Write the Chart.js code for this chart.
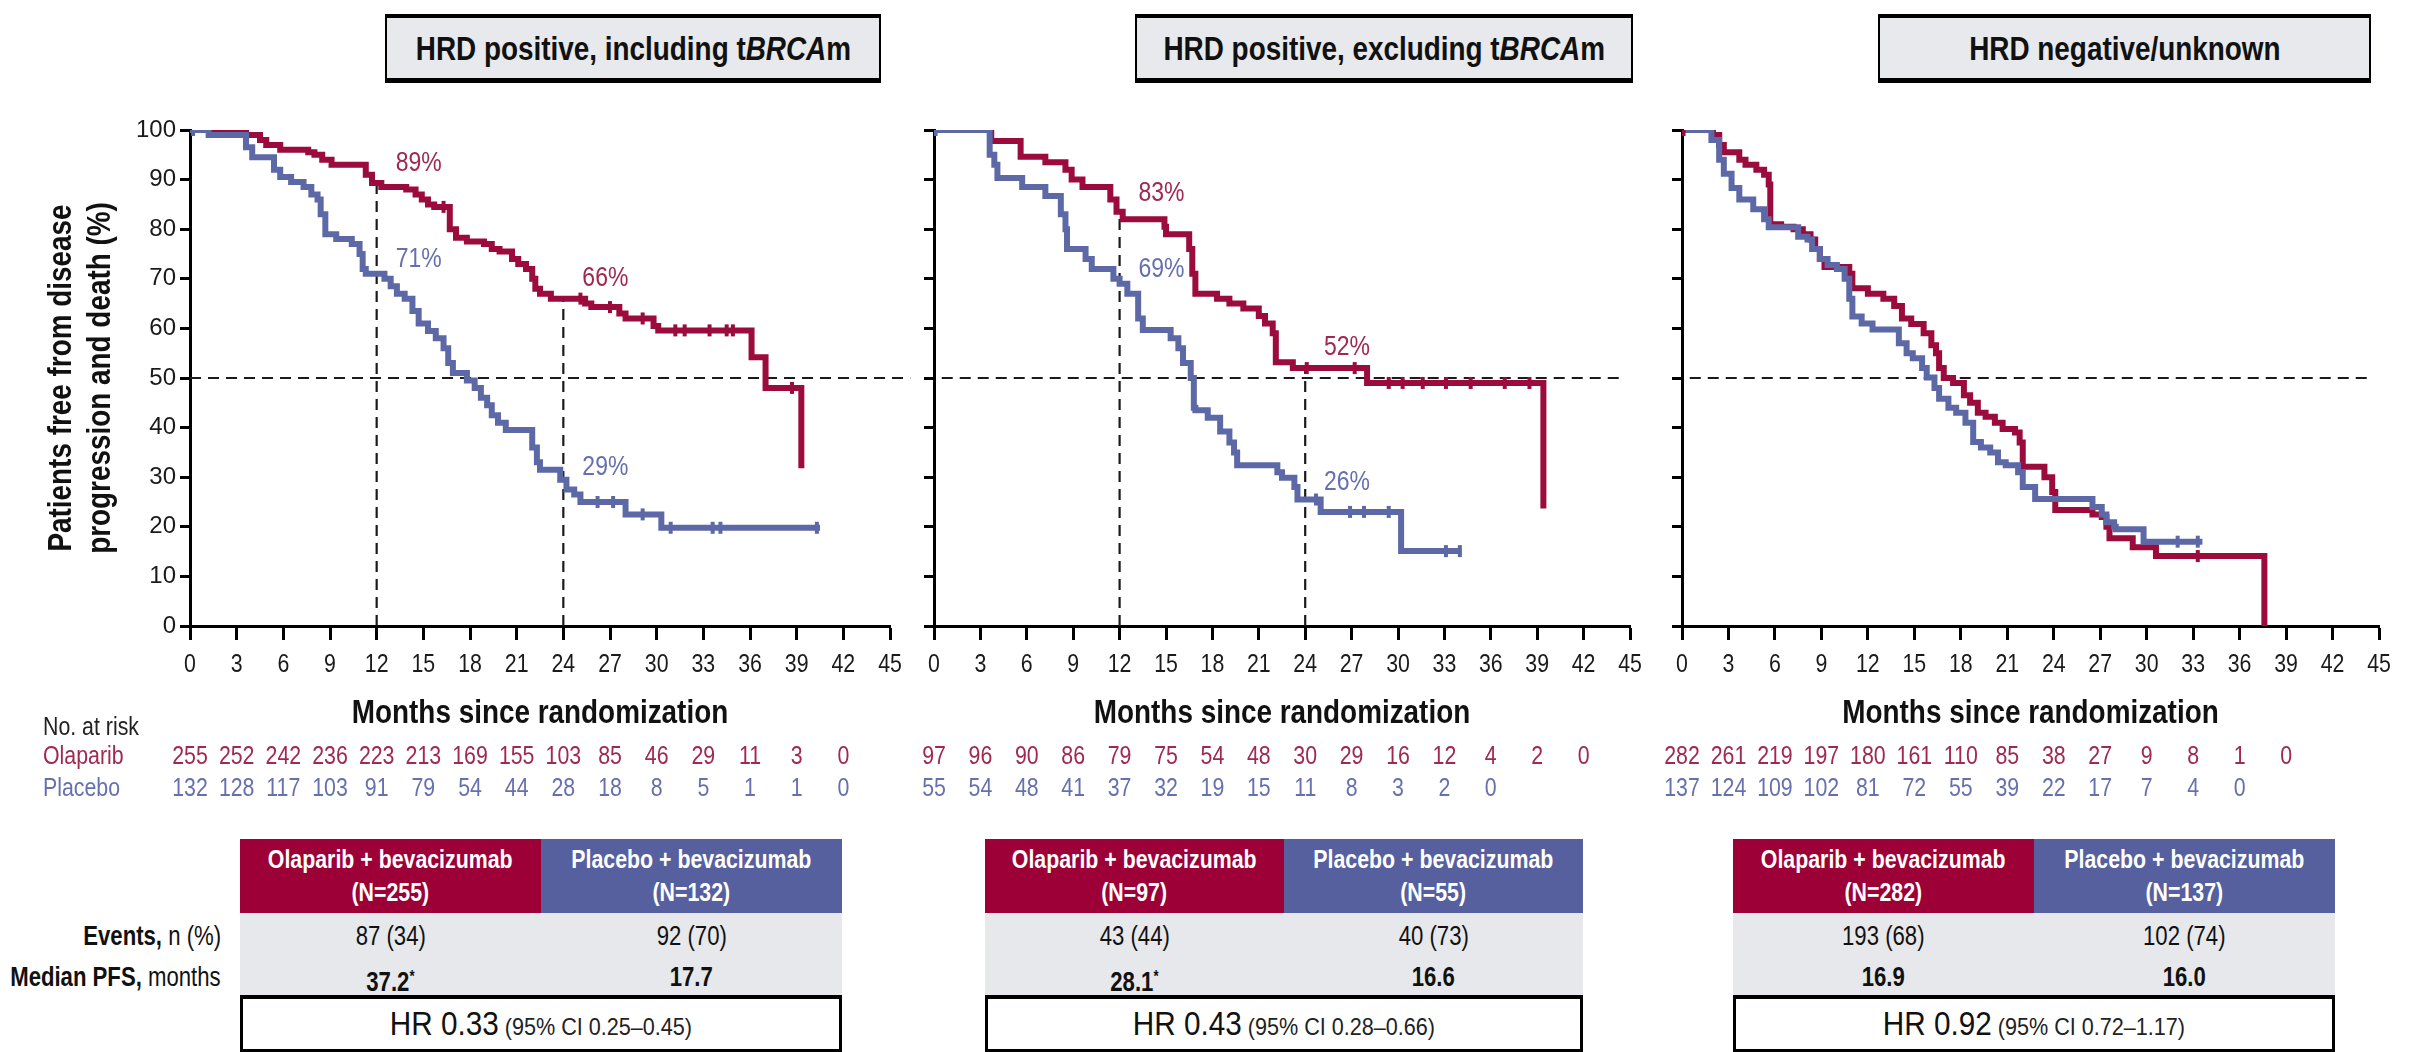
<!DOCTYPE html>
<html>
<head>
<meta charset="utf-8">
<script src="https://cdn.jsdelivr.net/npm/chart.js@4.4.1/dist/chart.umd.min.js"></script>
<style>
  html, body { margin: 0; padding: 0; background: #fff; }
  body {
    width: 2414px; height: 1052px; position: relative; overflow: hidden;
    font-family: "Liberation Sans", Arial, sans-serif;
    color: #111;
  }
  canvas { position: absolute; top: 100px; }
  .sq { display: inline-block; white-space: nowrap; transform: scaleX(0.82); }
  .title {
    position: absolute; top: 14px; height: 69px; box-sizing: border-box;
    background: #e7e9ec; border: 2px solid #000; border-top-width: 4px; border-bottom-width: 5px;
    display: flex; align-items: center; justify-content: center;
    font-size: 34px; font-weight: bold;
  }
  .hdr { position: absolute; top: 839px; height: 74px; display: flex; }
  .hdr div {
    flex: 1; color: #fff; font-weight: bold; font-size: 26px; line-height: 33px;
    display: flex; flex-direction: column; justify-content: center; align-items: center;
  }
  .body { position: absolute; top: 913px; height: 82px; background: #e6e8eb; }
  .row { display: flex; font-size: 27px; }
  .row div { flex: 1; text-align: center; }
  .r1 { height: 46px; line-height: 46px; }
  .r2 { height: 36px; line-height: 36px; font-weight: bold; }
  .lbl { position: absolute; right: 2193px; white-space: nowrap; font-size: 27px; }
  .lbl .sq { transform-origin: right center; }
  .hrbox {
    position: absolute; top: 995px; height: 57px; box-sizing: border-box; background: #fff;
    border: 3px solid #000; border-top-width: 4px;
    text-align: center; line-height: 50px; white-space: nowrap;
  }
  .hrbox .sq { transform: scaleX(0.9); }
  .hrbox .big { font-size: 33px; }
  .hrbox .small { font-size: 24px; color: #222; }
  sup { font-size: 16px; vertical-align: 9px; }
</style>
</head>
<body>
<canvas id="km0" width="930" height="720"></canvas>
<canvas id="km1" width="760" height="720"></canvas>
<canvas id="km2" width="759" height="720"></canvas>

<script>
// ---- data ----
const monthTicks = [0, 3, 6, 9, 12, 15, 18, 21, 24, 27, 30, 33, 36, 39, 42, 45];
const pctTicks = [0, 10, 20, 30, 40, 50, 60, 70, 80, 90, 100];
const riskMonths = [0, 3, 6, 9, 12, 15, 18, 21, 24, 27, 30, 33, 36, 39, 42];
const MEDIAN_LEVEL = 50;

const panelTitles = ['HRD positive, including t<i>BRCA</i>m', 'HRD positive, excluding t<i>BRCA</i>m', 'HRD negative/unknown'];

// HRD positive, including tBRCAm
const p1OlaT = [0, 3.6, 4.5, 4.9, 5.8, 7.6, 8.0, 8.5, 9.1, 11.3, 11.7, 12.3, 13.9, 14.5, 14.9, 15.3, 15.7, 16.7, 17.1, 17.8, 18.9, 19.4, 19.9, 20.7, 21.1, 21.6, 22.0, 22.2, 22.5, 23.2, 25.4, 25.8, 27.6, 28.0, 29.8, 30.1, 36.1, 37.0, 39.3];
const p1OlaS = [100, 99, 98, 97, 96, 95.5, 95, 94, 93, 91, 89.3, 88.5, 88, 87, 86, 85, 84.5, 80, 78.3, 77.5, 77, 76, 75.5, 74, 73, 72, 70, 68, 67, 66, 65, 64.3, 63, 62, 60.5, 59.6, 54.2, 48, 31.8];
const p1PboT = [0, 1.2, 3.6, 4.0, 5.4, 5.8, 6.5, 7.3, 7.8, 8.2, 8.4, 8.7, 9.4, 10.4, 10.9, 11.1, 11.3, 12.5, 12.9, 13.3, 13.8, 14.3, 14.7, 15.3, 15.8, 16.3, 16.6, 16.9, 17.8, 18.3, 18.7, 19.1, 19.4, 19.8, 20.3, 22.0, 22.3, 22.5, 23.8, 24.2, 24.7, 25.1, 28.0, 30.3, 40.5];
const p1PboS = [100, 99, 96.5, 94.5, 92, 90.5, 89.5, 88.5, 87, 86, 83, 79, 78, 77, 75, 72, 71, 70, 68.5, 67, 66, 63.5, 61, 59.5, 58, 56, 53, 51, 49.5, 48, 46, 44.5, 42.5, 41, 39.5, 36, 33, 31.5, 29.5, 27.5, 26.5, 25, 22.5, 19.8, 19.8];
const p1OlaCens = [16.3, 25.1, 27.0, 29.1, 31.2, 31.8, 33.4, 34.5, 34.9, 38.7];
const p1PboCens = [0.2, 26.2, 27.2, 29.1, 30.9, 33.6, 34.1, 40.3];
const p1OlaRisk = [255, 252, 242, 236, 223, 213, 169, 155, 103, 85, 46, 29, 11, 3, 0];
const p1PboRisk = [132, 128, 117, 103, 91, 79, 54, 44, 28, 18, 8, 5, 1, 1, 0];
const p1Landmarks = [12, 24];
const p1OlaLand = [89, 66];
const p1PboLand = [71, 29];

// HRD positive, excluding tBRCAm
const p2OlaT = [0, 3.7, 5.6, 7.2, 8.5, 8.9, 9.6, 11.4, 11.8, 12.2, 14.9, 15.0, 16.5, 16.7, 16.9, 18.3, 19.1, 20.0, 21.0, 21.4, 21.9, 22.1, 23.2, 28.0, 39.4];
const p2OlaS = [100, 97.8, 94.6, 93.5, 92, 90, 88.5, 86, 83.5, 82, 80.5, 79, 76, 71, 67, 66, 65, 64, 62.5, 61, 59, 53.2, 52, 49, 23.7];
const p2PboT = [0, 3.6, 3.9, 4.1, 5.7, 7.2, 8.2, 8.5, 8.6, 9.8, 10.2, 11.6, 12.0, 12.5, 13.2, 13.5, 15.3, 15.8, 16.1, 16.6, 16.8, 16.9, 17.7, 18.5, 19.1, 19.4, 19.6, 22.2, 22.5, 23.3, 23.5, 25.0, 30.2, 34.1];
const p2PboS = [100, 95, 93, 90.3, 88.5, 86.7, 83, 80, 76, 74, 72, 70, 69, 67, 62, 59.7, 58, 56, 53, 50, 44, 43.5, 42, 39.2, 37, 35, 32.4, 31, 29.9, 28, 25.5, 23, 15.1, 15.1];
const p2OlaCens = [24.1, 27.2, 29.4, 30.3, 31.6, 33.1, 34.7, 36.9, 38.5];
const p2PboCens = [0.1, 24.7, 26.9, 27.8, 29.4, 33.1, 34.0];
const p2OlaRisk = [97, 96, 90, 86, 79, 75, 54, 48, 30, 29, 16, 12, 4, 2, 0];
const p2PboRisk = [55, 54, 48, 41, 37, 32, 19, 15, 11, 8, 3, 2, 0];
const p2Landmarks = [12, 24];
const p2OlaLand = [83, 52];
const p2PboLand = [69, 26];

// HRD negative/unknown
const p3OlaT = [0, 2.0, 2.4, 2.7, 3.7, 4.1, 4.8, 5.3, 5.6, 5.7, 6.4, 7.2, 7.8, 8.3, 8.6, 8.9, 9.2, 10.8, 11.0, 12.0, 13.0, 13.7, 14.2, 14.8, 15.6, 16.1, 16.4, 16.6, 16.9, 17.5, 18.2, 18.6, 19.1, 19.6, 20.2, 20.7, 21.5, 21.8, 22.0, 23.4, 23.9, 24.1, 26.5, 27.1, 27.4, 27.6, 29.1, 30.6, 37.6];
const p3OlaS = [100, 99, 97, 95.5, 94, 93, 92, 91, 89, 81, 80.5, 80, 79, 77.9, 76, 74, 72.4, 71, 68.1, 67, 66, 64.5, 62, 60.9, 59, 56.6, 55, 52, 50, 49, 46.5, 45, 43, 42.2, 41, 39.7, 39, 37, 32.1, 30, 27, 23.4, 22.5, 22, 20, 17.7, 15.9, 14.1, 0];
const p3PboT = [0, 1.9, 2.4, 2.7, 3.2, 3.7, 4.6, 5.3, 5.6, 7.5, 8.1, 8.4, 8.9, 9.4, 10.0, 10.5, 10.8, 11.0, 11.6, 12.3, 14.0, 14.5, 14.9, 15.5, 15.8, 16.3, 16.6, 17.2, 17.7, 18.3, 18.8, 19.3, 19.9, 20.4, 20.9, 21.7, 22.0, 22.8, 26.5, 27.1, 27.4, 27.9, 28.0, 29.8, 33.6];
const p3PboS = [100, 98, 94, 91.2, 88.3, 86, 84, 82, 80.4, 78.5, 77.9, 76, 74, 72.8, 72, 70, 66, 62.4, 61, 59.8, 57, 55, 54, 52, 50.1, 48, 45.8, 44, 43, 41, 37.1, 36, 35, 33, 32.4, 31, 28, 25.6, 24, 22.5, 20.9, 20, 19.5, 17, 17];
const p3OlaCens = [0.1, 33.3];
const p3PboCens = [32.0, 33.3];
const p3OlaRisk = [282, 261, 219, 197, 180, 161, 110, 85, 38, 27, 9, 8, 1, 0];
const p3PboRisk = [137, 124, 109, 102, 81, 72, 55, 39, 22, 17, 7, 4, 0];

// summary tables
const olaN = [255, 97, 282];
const pboN = [132, 55, 137];
const olaEvents = [87, 43, 193];
const olaEventsPct = [34, 44, 68];
const pboEvents = [92, 40, 102];
const pboEventsPct = [70, 73, 74];
const olaMedian = ['37.2', '28.1', '16.9'];
const olaMedianStar = [true, true, false];
const pboMedian = ['17.7', '16.6', '16.0'];
const hrValue = ['0.33', '0.43', '0.92'];
const hrLow = ['0.25', '0.28', '0.72'];
const hrHigh = ['0.45', '0.66', '1.17'];

// ---- styles / layout ----
const FONT = '"Liberation Sans", Arial, sans-serif';
const SQUEEZE = 0.82;   // Arial Narrow look
const RED = '#9b0b3b', BLUE = '#5d68a7';
const RED_TXT = '#a0294f', BLUE_TXT = '#6670ae';
const HDR_RED = '#9c0036', HDR_BLUE = '#56609f';

const panels = [
  { olaT: p1OlaT, olaS: p1OlaS, pboT: p1PboT, pboS: p1PboS, olaCens: p1OlaCens, pboCens: p1PboCens,
    olaRisk: p1OlaRisk, pboRisk: p1PboRisk, landmarks: p1Landmarks, olaLand: p1OlaLand, pboLand: p1PboLand,
    left: 0, yWidth: 190, padRight: 40, yLabels: true, medFrom: 0, medTo: 46.3,
    titleLeft: 385, titleWidth: 496, tblLeft: 240, tblWidth: 602 },
  { olaT: p2OlaT, olaS: p2OlaS, pboT: p2PboT, pboS: p2PboS, olaCens: p2OlaCens, pboCens: p2PboCens,
    olaRisk: p2OlaRisk, pboRisk: p2PboRisk, landmarks: p2Landmarks, olaLand: p2OlaLand, pboLand: p2PboLand,
    left: 905, yWidth: 29, padRight: 35, yLabels: false, medFrom: 0.5, medTo: 44.4,
    titleLeft: 1135, titleWidth: 498, tblLeft: 985, tblWidth: 598 },
  { olaT: p3OlaT, olaS: p3OlaS, pboT: p3PboT, pboS: p3PboS, olaCens: p3OlaCens, pboCens: p3PboCens,
    olaRisk: p3OlaRisk, pboRisk: p3PboRisk, landmarks: [], olaLand: [], pboLand: [],
    left: 1655, yWidth: 27, padRight: 35, yLabels: false, medFrom: 0.5, medTo: 44.5,
    titleLeft: 1878, titleWidth: 493, tblLeft: 1733, tblWidth: 602 }
];

const toPts = (t, s) => t.map((x, i) => ({ x: x, y: s[i] }));

// value of a step curve at time t
function survivalAt(t, T, S) {
  let v = S[0];
  for (let i = 0; i < T.length; i++) { if (T[i] <= t) v = S[i]; }
  return v;
}

function dashed(points) {
  return { data: points, borderColor: '#1a1a1a', borderWidth: 2.2, borderDash: [11, 7],
           pointRadius: 0, fill: false, clip: false };
}

function censors(times, T, S, color) {
  return { data: times.map(t => ({ x: t, y: survivalAt(t, T, S) })), showLine: false,
           pointStyle: 'line', rotation: 90, pointRadius: 6, pointBorderWidth: 4,
           pointBorderColor: color, pointBackgroundColor: color, borderColor: color };
}

// squeezed text (Arial Narrow look)
function sqText(ctx, text, x, y, align, font, color, angle, sx) {
  ctx.save();
  ctx.font = font;
  ctx.fillStyle = color;
  ctx.textAlign = align;
  ctx.textBaseline = 'middle';
  ctx.translate(x, y);
  if (angle) ctx.rotate(angle);
  ctx.scale(sx || SQUEEZE, 1);
  ctx.fillText(text, 0, 0);
  ctx.restore();
}

function drawKM(idx, p) {
  const canvas = document.getElementById('km' + idx);
  canvas.style.left = p.left + 'px';

  const datasets = [
    censors(p.pboCens, p.pboT, p.pboS, BLUE),
    censors(p.olaCens, p.olaT, p.olaS, RED),
    { data: toPts(p.pboT, p.pboS), borderColor: BLUE, borderWidth: 6, stepped: true, pointRadius: 0, fill: false },
    { data: toPts(p.olaT, p.olaS), borderColor: RED, borderWidth: 6, stepped: true, pointRadius: 0, fill: false },
    dashed([{ x: p.medFrom, y: MEDIAN_LEVEL }, { x: p.medTo, y: MEDIAN_LEVEL }])
  ];
  p.landmarks.forEach((m, i) => datasets.push(dashed([{ x: m, y: 0 }, { x: m, y: p.olaLand[i] }])));

  const texts = {
    id: 'kmText',
    afterDraw(chart) {
      const { ctx, chartArea } = chart;
      const x = chart.scales.x, y = chart.scales.y;
      const base = chartArea.bottom;

      // axis tick labels and titles
      x.ticks.forEach(t => sqText(ctx, String(t.value), x.getPixelForValue(t.value), base + 39, 'center', '26px ' + FONT, '#1a1a1a'));
      sqText(ctx, 'Months since randomization', (chartArea.left + chartArea.right) / 2, base + 88, 'center', 'bold 34px ' + FONT, '#111');
      if (p.yLabels) {
        y.ticks.forEach(t => sqText(ctx, String(t.value), chartArea.left - 14, y.getPixelForValue(t.value), 'right', '24px ' + FONT, '#1a1a1a', 0, 1));
        const mid = (chartArea.top + chartArea.bottom) / 2;
        sqText(ctx, 'Patients free from disease', 62, mid, 'center', 'bold 34px ' + FONT, '#111', -Math.PI / 2);
        sqText(ctx, 'progression and death (%)', 101, mid, 'center', 'bold 34px ' + FONT, '#111', -Math.PI / 2);
      }

      // landmark percentages
      p.landmarks.forEach((m, i) => {
        sqText(ctx, p.olaLand[i] + '%', x.getPixelForValue(m + 2.7), y.getPixelForValue(p.olaLand[i] + 4.2), 'center', '28px ' + FONT, RED_TXT);
        sqText(ctx, p.pboLand[i] + '%', x.getPixelForValue(m + 2.7), y.getPixelForValue(p.pboLand[i] + 2.9), 'center', '28px ' + FONT, BLUE_TXT);
      });

      // numbers at risk
      p.olaRisk.forEach((n, i) => sqText(ctx, String(n), x.getPixelForValue(riskMonths[i]), base + 131, 'center', '26px ' + FONT, RED_TXT));
      p.pboRisk.forEach((n, i) => sqText(ctx, String(n), x.getPixelForValue(riskMonths[i]), base + 163, 'center', '26px ' + FONT, BLUE_TXT));
      if (p.yLabels) {
        sqText(ctx, 'No. at risk', 43, base + 102, 'left', '26px ' + FONT, '#222');
        sqText(ctx, 'Olaparib', 43, base + 131, 'left', '26px ' + FONT, RED_TXT);
        sqText(ctx, 'Placebo', 43, base + 163, 'left', '26px ' + FONT, BLUE_TXT);
      }
    }
  };

  return new Chart(canvas.getContext('2d'), {
    type: 'line',
    data: { datasets: datasets },
    options: {
      responsive: false,
      animation: false,
      devicePixelRatio: 1,
      layout: { padding: { left: 0, top: 30, right: p.padRight, bottom: 87 } },
      plugins: { legend: { display: false }, tooltip: { enabled: false } },
      scales: {
        x: {
          type: 'linear', min: 0, max: 45,
          afterBuildTicks: s => { s.ticks = monthTicks.map(v => ({ value: v })); },
          afterFit: s => { s.height = 107; },
          ticks: { display: false },
          grid: { drawOnChartArea: false, drawTicks: true, tickLength: 14, tickWidth: 3, tickColor: '#000', color: '#000' },
          border: { display: true, width: 3, color: '#000' }
        },
        y: {
          type: 'linear', min: 0, max: 100,
          afterBuildTicks: s => { s.ticks = pctTicks.map(v => ({ value: v })); },
          afterFit: s => { s.width = p.yWidth; },
          ticks: { display: false },
          grid: { drawOnChartArea: false, drawTicks: true, tickLength: 10, tickWidth: 3, tickColor: '#000', color: '#000' },
          border: { display: true, width: 3, color: '#000' }
        }
      }
    },
    plugins: [texts]
  });
}

function el(cls, html, style) {
  const d = document.createElement('div');
  d.className = cls;
  d.innerHTML = html;
  Object.assign(d.style, style);
  document.body.appendChild(d);
  return d;
}
const sq = s => '<span class="sq">' + s + '</span>';

panels.forEach((p, i) => {
  drawKM(i, p);

  el('title', sq(panelTitles[i]), { left: p.titleLeft + 'px', width: p.titleWidth + 'px' });

  const w = { left: p.tblLeft + 'px', width: p.tblWidth + 'px' };
  el('hdr',
    '<div style="background:' + HDR_RED + '">' + sq('Olaparib + bevacizumab') + sq('(N=' + olaN[i] + ')') + '</div>' +
    '<div style="background:' + HDR_BLUE + '">' + sq('Placebo + bevacizumab') + sq('(N=' + pboN[i] + ')') + '</div>', w);

  el('body',
    '<div class="row r1"><div>' + sq(olaEvents[i] + ' (' + olaEventsPct[i] + ')') + '</div><div>' + sq(pboEvents[i] + ' (' + pboEventsPct[i] + ')') + '</div></div>' +
    '<div class="row r2"><div>' + sq(olaMedian[i] + (olaMedianStar[i] ? '<sup>*</sup>' : '')) + '</div><div>' + sq(pboMedian[i]) + '</div></div>', w);

  el('hrbox', sq('<span class="big">HR ' + hrValue[i] + '</span><span class="small"> (95% CI ' + hrLow[i] + '\u2013' + hrHigh[i] + ')</span>'), w);
});

el('lbl', sq('<b>Events,</b> n (%)'), { top: '913px', height: '46px', lineHeight: '46px' });
el('lbl', sq('<b>Median PFS,</b> months'), { top: '959px', height: '36px', lineHeight: '36px' });
</script>
</body>
</html>
